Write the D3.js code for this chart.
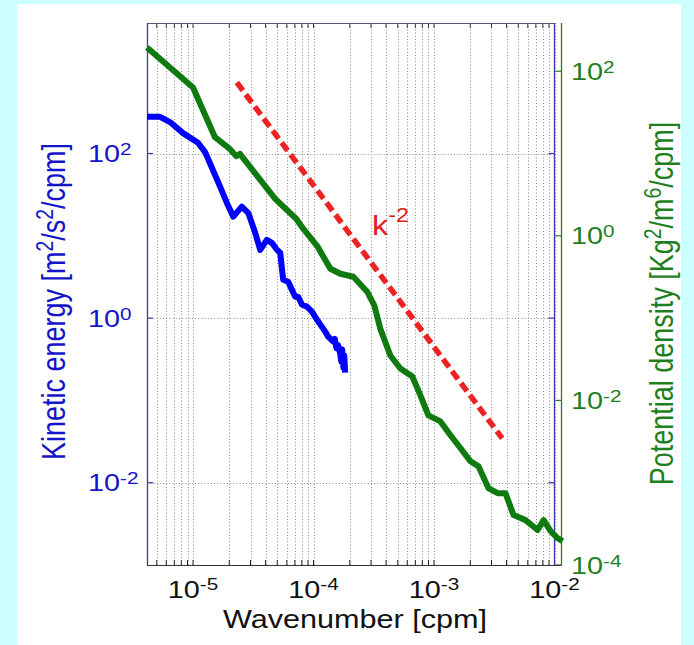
<!DOCTYPE html>
<html>
<head>
<meta charset="utf-8">
<script src="https://cdn.jsdelivr.net/npm/d3@7"></script>
<style>
  body { margin: 0; background: #ccffff; }
  svg { display: block; }
  text { font-family: "Liberation Sans", Arial, Helvetica, sans-serif; }
</style>
</head>
<body>
<svg id="chart" width="694" height="645"></svg>
<script>
// Kinetic energy spectrum (left axis)
const keWavenumber = [4.15e-6, 5.32e-6, 6.44e-6, 8.26e-6, 1.10e-5, 1.26e-5, 1.38e-5, 1.68e-5, 1.91e-5, 2.16e-5,
  2.54e-5, 2.88e-5, 3.28e-5, 3.61e-5, 4.10e-5, 4.51e-5, 4.97e-5, 5.29e-5, 5.60e-5, 6.16e-5,
  6.61e-5, 7.05e-5, 7.46e-5, 8.01e-5, 8.81e-5, 9.70e-5, 1.03e-4, 1.14e-4, 1.25e-4, 1.32e-4,
  1.46e-4, 1.50e-4, 1.55e-4, 1.60e-4, 1.67e-4, 1.70e-4, 1.73e-4, 1.77e-4, 1.80e-4, 1.83e-4];
const keSpectrum = [279, 279, 241, 177, 135, 104, 76.7, 39.3, 25.1, 17.1,
  22.6, 18.9, 10.9, 6.76, 8.94, 8.22, 6.76, 6.22, 2.93, 2.77,
  2.22, 1.82, 1.82, 1.46, 1.38, 1.20, 1.04, 0.834, 0.686, 0.597,
  0.519, 0.56, 0.43, 0.47, 0.36, 0.297, 0.415, 0.251, 0.351, 0.218];

// Potential density spectrum (right axis)
const pdWavenumber = [4.15e-6, 1.0e-5, 1.52e-5, 2.03e-5, 2.28e-5, 2.45e-5, 4.81e-5, 7.18e-5, 8.21e-5, 1.07e-4,
  1.38e-4, 1.67e-4, 2.14e-4, 2.79e-4, 3.2e-4, 3.58e-4, 4.34e-4, 5.26e-4, 6.61e-4, 7.71e-4,
  8.98e-4, 1.13e-3, 1.37e-3, 1.66e-3, 2.01e-3, 2.34e-3, 2.83e-3, 3.37e-3, 3.92e-3, 4.57e-3,
  5.75e-3, 7.24e-3, 8.12e-3, 9.28e-3, 1.06e-2, 1.17e-2];
const pdSpectrum = [194, 63.4, 15.8, 11.3, 9.3, 9.9, 2.81, 1.61, 1.22, 0.757,
  0.398, 0.346, 0.318, 0.2095, 0.1418, 0.0746, 0.0351, 0.0244, 0.0195, 0.0115,
  0.00658, 0.00556, 0.00377, 0.00262, 0.00182, 0.00158, 0.000858, 0.000746, 0.000746, 0.000404,
  0.000351, 0.000266, 0.000351, 0.000258, 0.000212, 0.000195];

// k^-2 reference slope (right axis units)
const refWavenumber = [2.31e-5, 3.68e-3];
const refSpectrum = [73, 0.00346];

// Tick exponents
const xTickExps = [-5, -4, -3, -2];
const leftTickExps = [2, 0, -2];
const rightTickExps = [2, 0, -2, -4];

const svg = d3.select("#chart");
const FONT_STRETCH = 1.2;

const plotLeft = 147, plotRight = 554.5, plotTop = 23, plotBottom = 565, rightAxisX = 561.5;

const x = d3.scaleLog().domain([4.15e-6, 1e-2]).range([plotLeft, plotRight]);
const yL = d3.scaleLog().domain([1e-3, 3855]).range([plotBottom, plotTop]);
const yR = d3.scaleLog().domain([1e-4, 385.5]).range([plotBottom, plotTop]);

// white panel
svg.append("rect").attr("x", 17).attr("y", 4).attr("width", 664).attr("height", 641).attr("fill", "#ffffff");

// minor + major x positions for grid
const xGrid = [];
for (let e = -6; e <= -2; e++) {
  for (let m = 1; m <= 9; m++) {
    const v = m * Math.pow(10, e);
    if (v >= 4.15e-6 && v <= 1e-2 * 1.0001) xGrid.push(v);
  }
}

const grid = svg.append("g").attr("stroke", "#8c8c8c").attr("stroke-width", 1).attr("stroke-dasharray", "1,2.2");
grid.selectAll("line.vx").data(xGrid).join("line")
  .attr("x1", d => Math.round(x(d)) + 0.5).attr("x2", d => Math.round(x(d)) + 0.5)
  .attr("y1", plotTop).attr("y2", plotBottom);
grid.selectAll("line.hy").data(leftTickExps).join("line")
  .attr("x1", plotLeft).attr("x2", plotRight)
  .attr("y1", d => Math.round(yL(Math.pow(10, d))) + 0.5).attr("y2", d => Math.round(yL(Math.pow(10, d))) + 0.5);

// x ticks (bottom and top)
const ticks = svg.append("g");
ticks.selectAll("line.xb").data(xGrid).join("line")
  .attr("x1", d => x(d)).attr("x2", d => x(d))
  .attr("y1", plotBottom).attr("y2", plotBottom - 5)
  .attr("stroke", "#222").attr("stroke-width", 1);
ticks.selectAll("line.xt").data(xGrid).join("line")
  .attr("x1", d => x(d)).attr("x2", d => x(d))
  .attr("y1", plotTop).attr("y2", plotTop + 5)
  .attr("stroke", "#333").attr("stroke-width", 1);

// left axis ticks + mirrored on right box edge
ticks.selectAll("line.yl").data(leftTickExps).join("line")
  .attr("x1", plotLeft).attr("x2", plotLeft + 6)
  .attr("y1", d => yL(Math.pow(10, d))).attr("y2", d => yL(Math.pow(10, d)))
  .attr("stroke", "#3a3ab0").attr("stroke-width", 1.2);
ticks.selectAll("line.yr").data(leftTickExps).join("line")
  .attr("x1", plotRight).attr("x2", plotRight - 6)
  .attr("y1", d => yL(Math.pow(10, d))).attr("y2", d => yL(Math.pow(10, d)))
  .attr("stroke", "#3a3ab0").attr("stroke-width", 1.2);

// green axis ticks
ticks.selectAll("line.g").data(rightTickExps).join("line")
  .attr("x1", rightAxisX).attr("x2", rightAxisX - 6)
  .attr("y1", d => yR(Math.pow(10, d))).attr("y2", d => yR(Math.pow(10, d)))
  .attr("stroke", "#2a7a2a").attr("stroke-width", 1.2);

// box lines
svg.append("line").attr("x1", plotLeft).attr("x2", plotRight).attr("y1", plotTop + 0.5).attr("y2", plotTop + 0.5)
  .attr("stroke", "#55557a").attr("stroke-width", 1);
svg.append("line").attr("x1", plotLeft).attr("x2", rightAxisX).attr("y1", plotBottom + 0.5).attr("y2", plotBottom + 0.5)
  .attr("stroke", "#333").attr("stroke-width", 1.2);
svg.append("line").attr("x1", plotLeft + 0.5).attr("x2", plotLeft + 0.5).attr("y1", plotTop).attr("y2", plotBottom)
  .attr("stroke", "#3a3ab0").attr("stroke-width", 1.3);
svg.append("line").attr("x1", plotRight).attr("x2", plotRight).attr("y1", plotTop).attr("y2", plotBottom)
  .attr("stroke", "#3a3ab0").attr("stroke-width", 1.3);
svg.append("line").attr("x1", rightAxisX).attr("x2", rightAxisX).attr("y1", plotTop).attr("y2", plotBottom)
  .attr("stroke", "#2a7a2a").attr("stroke-width", 1.3);

// curves
const keLine = d3.line().x(d => x(d[0])).y(d => yL(d[1]));
const pdLine = d3.line().x(d => x(d[0])).y(d => yR(d[1]));

svg.append("path").datum(pdWavenumber.map((k, i) => [k, pdSpectrum[i]]))
  .attr("d", pdLine).attr("fill", "none").attr("stroke", "#0f7a0f")
  .attr("stroke-width", 6).attr("stroke-linejoin", "round");

svg.append("path").datum(keWavenumber.map((k, i) => [k, keSpectrum[i]]))
  .attr("d", keLine).attr("fill", "none").attr("stroke", "#0000ff")
  .attr("stroke-width", 6).attr("stroke-linejoin", "round");

svg.append("path").datum(refWavenumber.map((k, i) => [k, refSpectrum[i]]))
  .attr("d", pdLine).attr("fill", "none").attr("stroke", "#ee2222")
  .attr("stroke-width", 5.5).attr("stroke-dasharray", "10,5");

// text helpers
function powerLabel(parent, tx, ty, exp, opts) {
  const g = parent.append("g").attr("transform", `translate(${tx},${ty}) scale(${FONT_STRETCH},1)`);
  const t = g.append("text").attr("x", 0).attr("y", 0)
    .attr("text-anchor", opts.anchor).attr("fill", opts.color).attr("font-size", opts.size);
  t.append("tspan").text("10");
  t.append("tspan").attr("font-size", opts.size * 0.72).attr("dy", -opts.raise).text(String(exp));
  return g;
}

xTickExps.forEach(e => powerLabel(svg, x(Math.pow(10, e)), 598, e, { anchor: "middle", color: "#111", size: 24, raise: 8 }));
leftTickExps.forEach(e => powerLabel(svg, 88, yL(Math.pow(10, e)) + 8.5, e, { anchor: "start", color: "#1414c8", size: 24, raise: 7 }));
rightTickExps.forEach(e => powerLabel(svg, 571, yR(Math.pow(10, e)) + 8.5, e, { anchor: "start", color: "#1f7f1f", size: 24, raise: 7 }));

// axis titles
function richText(parent, transform, parts, opts) {
  const g = parent.append("g").attr("transform", transform);
  const t = g.append("text").attr("text-anchor", opts.anchor).attr("fill", opts.color).attr("font-size", opts.size);
  let raised = false;
  parts.forEach(p => {
    const s = t.append("tspan").text(p.text);
    if (p.sup && !raised) { s.attr("font-size", opts.size * 0.72).attr("dy", -opts.raise); raised = true; }
    else if (!p.sup && raised) { s.attr("dy", opts.raise); raised = false; }
    else if (p.sup) s.attr("font-size", opts.size * 0.72);
  });
  return g;
}

richText(svg, `translate(355,628) scale(${FONT_STRETCH},1)`, [{ text: "Wavenumber [cpm]" }],
  { anchor: "middle", color: "#111", size: 25.5, raise: 0 });

richText(svg, `translate(65,301.5) scale(${FONT_STRETCH},1) rotate(-90)`,
  [{ text: "Kinetic energy [m" }, { text: "2", sup: true }, { text: "/s" }, { text: "2", sup: true }, { text: "/cpm]" }],
  { anchor: "middle", color: "#1414c8", size: 27, raise: 10 });

richText(svg, `translate(673,303.5) scale(${FONT_STRETCH},1) rotate(-90)`,
  [{ text: "Potential density [Kg" }, { text: "2", sup: true }, { text: "/m" }, { text: "6", sup: true }, { text: "/cpm]" }],
  { anchor: "middle", color: "#1f7f1f", size: 27, raise: 10 });

richText(svg, `translate(372,235) scale(${FONT_STRETCH},1)`,
  [{ text: "k" }, { text: "-2", sup: true }],
  { anchor: "start", color: "#dd2222", size: 27, raise: 13 });
</script>
</body>
</html>
